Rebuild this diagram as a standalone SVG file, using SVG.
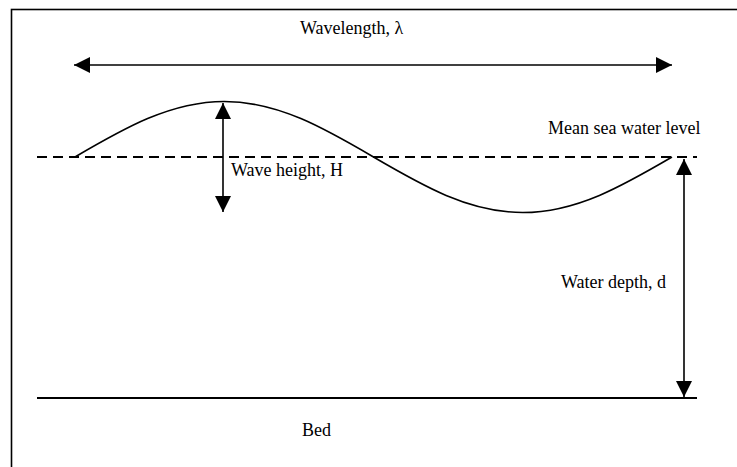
<svg xmlns="http://www.w3.org/2000/svg" width="737" height="467" viewBox="0 0 737 467">
<style>
.t{font-family:"Liberation Serif","Times New Roman",serif;font-size:18px;fill:#000}
.ln{stroke:#000;fill:none}
</style>
<defs>
<marker id="ah" viewBox="0 0 16 16" refX="16" refY="8" markerWidth="16" markerHeight="16" markerUnits="userSpaceOnUse" orient="auto-start-reverse">
<path d="M0,0 L16,8 L0,16 Z" fill="#000"/>
</marker>
</defs>
<rect width="737" height="467" fill="#fff"/>
<rect id="frame" x="11.5" y="9.5" width="740" height="470" class="ln" stroke-width="1.6"/>
<g id="wave">
<path class="ln" stroke-width="1.6" d="M75,157 C123.68,128.57 170.24,101.5 224.25,101.5 C278.26,101.5 324.82,128.57 373.5,157 C422.18,185.43 468.74,212.5 522.75,212.5 C576.76,212.5 623.32,185.43 672,157"/>
</g>
<g id="msl">
<line class="ln" x1="37" y1="157" x2="697" y2="157" stroke-width="2" stroke-dasharray="10,6"/>
<text class="t" x="548" y="134">Mean sea water level</text>
</g>
<g id="bed">
<line class="ln" x1="37" y1="398" x2="697" y2="398" stroke-width="2.2"/>
<text class="t" x="302" y="436">Bed</text>
</g>
<g id="connectors">
<line id="wavelength-arrow" class="ln" x1="74" y1="65" x2="672" y2="65" stroke-width="1.6" marker-start="url(#ah)" marker-end="url(#ah)"/>
<line id="height-arrow" class="ln" x1="223" y1="103" x2="223" y2="212" stroke-width="1.6" marker-start="url(#ah)" marker-end="url(#ah)"/>
<line id="depth-arrow" class="ln" x1="684" y1="159" x2="684" y2="397" stroke-width="1.6" marker-start="url(#ah)" marker-end="url(#ah)"/>
</g>
<g id="labels">
<text class="t" x="300" y="34">Wavelength, λ</text>
<text class="t" x="231" y="176">Wave height, H</text>
<text class="t" x="561" y="288">Water depth, d</text>
</g>
</svg>
